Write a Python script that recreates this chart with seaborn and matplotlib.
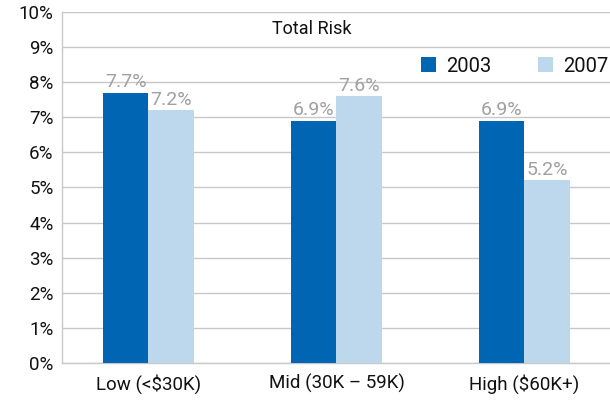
import matplotlib
matplotlib.use("Agg")
import matplotlib.pyplot as plt
import seaborn as sns
import pandas as pd

income_groups = ["Low (<$30K)", "Mid (30K \u2013 59K)", "High ($60K+)"]
years = ["2003", "2007"]
risk_2003 = [7.7, 6.9, 6.9]
risk_2007 = [7.2, 7.6, 5.2]
y_ticks = list(range(0, 11))

df = pd.DataFrame({
    "group": income_groups * 2,
    "year": [years[0]] * 3 + [years[1]] * 3,
    "risk": risk_2003 + risk_2007,
})

sns.set_theme(style="white")
plt.rcParams["font.family"] = ["Roboto", "DejaVu Sans"]

palette = {"2003": "#0066B3", "2007": "#BDD7EC"}

fig = plt.figure(figsize=(6.10, 4.04), dpi=100)
ax = fig.add_axes([0.1016, 0.1015, 0.9, 0.869])

sns.barplot(data=df, x="group", y="risk", hue="year", palette=palette,
            width=0.487, saturation=1, linewidth=0, ax=ax, zorder=3)

for container in ax.containers:
    ax.bar_label(container, labels=[f"{v:.1f}%" for v in container.datavalues],
                 padding=1, color="#A0A0A0", fontsize=14)

ax.set_ylim(0, 10)
ax.set_xlim(-0.46, 2.46)
ax.set_yticks(y_ticks)
ax.set_yticklabels([f"{t}%" for t in y_ticks], fontsize=13.5, color="#111111")
ax.tick_params(axis="x", labelsize=13.5, colors="#111111", pad=8, length=0)
ax.tick_params(axis="y", pad=6, length=0)
ax.set_xlabel("")
ax.set_ylabel("")
ax.yaxis.grid(True, color="#C8C8C8", linewidth=1)
ax.set_axisbelow(True)

for side in ["top", "right"]:
    ax.spines[side].set_visible(False)
for side in ["left", "bottom"]:
    ax.spines[side].set_color("#C8C8C8")
    ax.spines[side].set_linewidth(1)

ax.text(0.87, 9.5, "Total Risk", ha="center", va="center", fontsize=13, color="#111111")

leg = ax.legend(loc="upper right", bbox_to_anchor=(1.01, 0.895), ncol=2, frameon=False,
                fontsize=14.5, handlelength=0.75, handleheight=0.75, handletextpad=0.5,
                columnspacing=2.3, borderaxespad=0.0)
for t in leg.get_texts():
    t.set_color("#111111")

fig.savefig("out.png", dpi=100)
